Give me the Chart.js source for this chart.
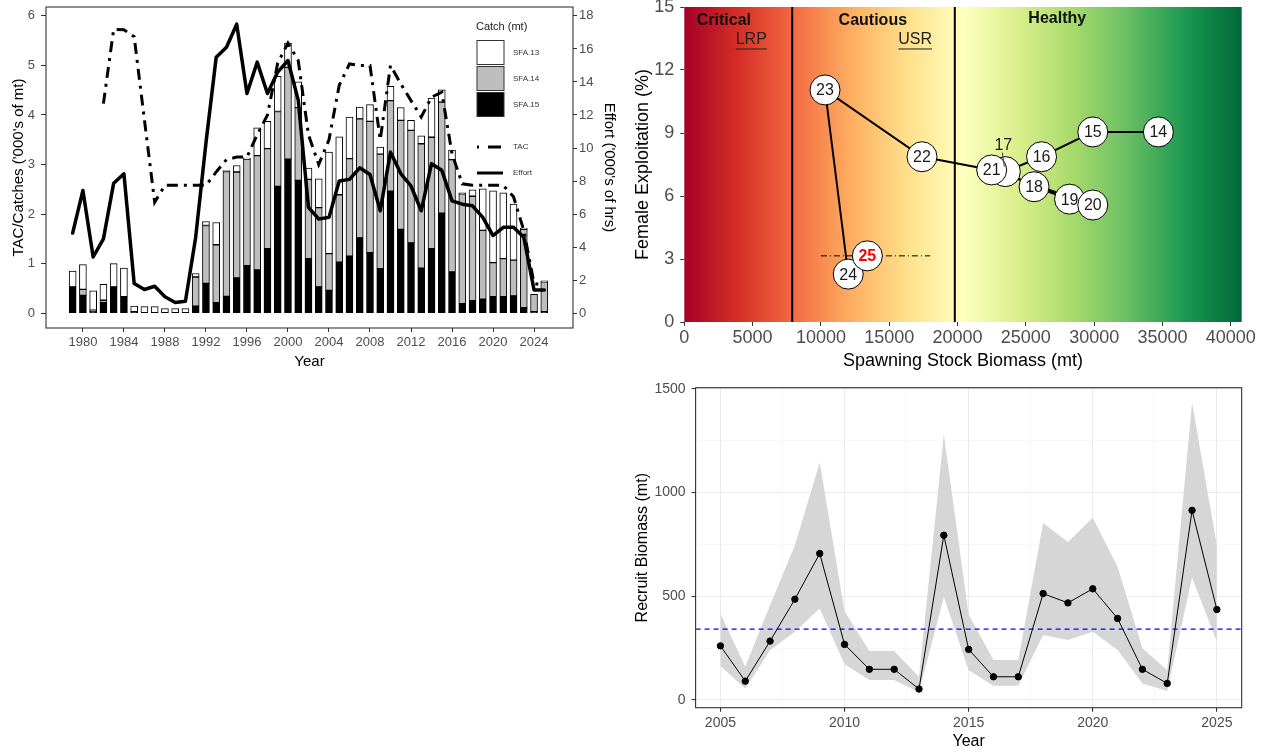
<!DOCTYPE html>
<html>
<head>
<meta charset="utf-8">
<script src="https://cdn.jsdelivr.net/npm/chart.js@4.4.1/dist/chart.umd.min.js"></script>
<style>
  body { margin: 0; background: #fff; width: 1261px; height: 752px; overflow: hidden; position: relative; }
  .panel { position: absolute; }
</style>
</head>
<body>
<div class="panel" style="left:0;top:0;width:625px;height:372px"><canvas id="catch-chart" width="625" height="372"></canvas></div>
<div class="panel" style="left:630px;top:0;width:631px;height:372px"><canvas id="hcr-chart" width="631" height="372"></canvas></div>
<div class="panel" style="left:630px;top:378px;width:631px;height:374px"><canvas id="recruit-chart" width="631" height="374"></canvas></div>
<script>
// ---- Catch / TAC / effort (top left) ----
const years = [1979, 1980, 1981, 1982, 1983, 1984, 1985, 1986, 1987, 1988, 1989, 1990, 1991, 1992, 1993, 1994,
    1995, 1996, 1997, 1998, 1999, 2000, 2001, 2002, 2003, 2004, 2005, 2006, 2007, 2008, 2009, 2010, 2011, 2012,
    2013, 2014, 2015, 2016, 2017, 2018, 2019, 2020, 2021, 2022, 2023, 2024, 2025];
const sfa15 = [0.53, 0.36, 0.03, 0.21, 0.53, 0.33, 0.03, 0, 0, 0, 0, 0, 0.14, 0.60, 0.21, 0.34,
    0.71, 0.96, 0.87, 1.30, 2.56, 3.11, 2.68, 1.10, 0.53, 0.46, 1.03, 1.15, 1.52, 1.22, 0.90, 2.46, 1.69, 1.42,
    0.91, 1.30, 2.02, 0.83, 0.19, 0.25, 0.28, 0.33, 0.33, 0.35, 0.11, 0.03, 0.03];
const sfa14 = [0, 0.12, 0.03, 0.05, 0, 0, 0, 0, 0, 0, 0, 0, 0.59, 1.17, 1.17, 2.52,
    2.14, 2.15, 2.31, 2.02, 1.51, 1.85, 1.47, 1.60, 1.60, 0.74, 1.36, 1.97, 2.40, 2.65, 2.31, 1.83, 2.20, 2.27,
    2.51, 2.25, 2.24, 2.27, 2.22, 2.11, 1.39, 0.69, 0.77, 0.72, 1.58, 0.35, 0.60];
const sfa13 = [0.32, 0.50, 0.39, 0.32, 0.47, 0.58, 0.11, 0.13, 0.13, 0.09, 0.09, 0.09, 0.07, 0.08, 0.45, 0.02,
    0.13, 0.02, 0.56, 0.55, 0.71, 0.49, 0.52, 0.23, 0.58, 2.05, 1.17, 0.84, 0.24, 0.34, 0.14, 0.29, 0.26, 0.20,
    0.16, 0.79, 0.25, 0.19, 0.02, 0.13, 0.84, 1.45, 1.33, 1.13, 0.02, 0, 0.02];
const tac = [null, null, null, 4.23, 5.73, 5.72, 5.58, 3.9, 2.24, 2.58, 2.58, 2.58, 2.58, 2.58, 2.85, 3.1,
    3.15, 3.15, 3.6, 4.0, 5.05, 5.45, 5.1, 3.6, 3.0, 3.5, 4.6, 5.03, 5.0, 5.0, 3.5, 5.0, 4.63, 4.29,
    3.96, 4.36, 4.46, 3.22, 2.61, 2.58, 2.58, 2.58, 2.58, 2.35, 1.67, 0.6, 0.56];
const effort = [4.85, 7.43, 3.4, 4.5, 7.87, 8.44, 1.79, 1.43, 1.63, 0.99, 0.64, 0.72, 4.6, 10.3, 15.5, 16.1,
    17.5, 13.3, 15.2, 13.3, 14.6, 15.3, 12.9, 6.4, 5.7, 5.8, 8.0, 8.1, 8.8, 8.4, 6.2, 9.75, 8.45, 7.7,
    6.2, 9.05, 8.65, 6.8, 6.6, 6.5, 5.8, 4.7, 5.2, 5.2, 4.6, 1.4, 1.4];
const yearTicks = [1980, 1984, 1988, 1992, 1996, 2000, 2004, 2008, 2012, 2016, 2020, 2024];
const catchTicks = [0, 1, 2, 3, 4, 5, 6];
const effortTicks = [0, 2, 4, 6, 8, 10, 12, 14, 16, 18];

// ---- Harvest control rule (top right) ----
const hcrYears = ['14', '15', '16', '17', '18', '19', '20', '21', '22', '23', '24', '25'];
const ssb = [34700, 29900, 26150, 23500, 25600, 28200, 29900, 22500, 17400, 10300, 12000, 13400];
const exploitation = [9.05, 9.05, 7.87, 7.16, 6.44, 5.85, 5.57, 7.24, 7.87, 11.05, 2.28, 3.15];
const lrp = 7900;
const usr = 19800;
const refExploitation = 3.15;
const refRange = [10000, 18000];
const ssbTicks = [0, 5000, 10000, 15000, 20000, 25000, 30000, 35000, 40000];
const exploitTicks = [0, 3, 6, 9, 12, 15];
const zoneColors = ['#a50026', '#d73027', '#f46d43', '#fdae61', '#fee08b', '#ffffbf',
    '#d9ef8b', '#a6d96a', '#66bd63', '#1a9850', '#006837'];

// ---- Recruit biomass (bottom right) ----
const recruitYears = [2005, 2006, 2007, 2008, 2009, 2010, 2011, 2012, 2013, 2014, 2015, 2016, 2017, 2018,
    2019, 2020, 2021, 2022, 2023, 2024, 2025];
const recruit = [261, 91, 284, 486, 706, 268, 148, 148, 53, 794, 244, 112, 112, 513, 468, 536, 393, 148, 80, 914, 436];
const recruitUpper = [417, 160, 457, 746, 1144, 428, 236, 236, 112, 1279, 412, 193, 193, 853, 762, 878, 642, 249, 144, 1433, 745];
const recruitLower = [164, 56, 240, 329, 441, 172, 96, 96, 37, 497, 144, 69, 69, 313, 289, 329, 241, 80, 43, 590, 281];
const recruitRef = 342;
const recruitYearTicks = [2005, 2010, 2015, 2020, 2025];
const recruitTicks = [0, 500, 1000, 1500];

const FONT = "'Liberation Sans', Arial, sans-serif";
Chart.defaults.font.family = FONT;
Chart.defaults.color = '#4d4d4d';
Chart.defaults.animation = false;
Chart.defaults.plugins.legend.display = false;
Chart.defaults.plugins.tooltip.enabled = false;

// fixed axis box so the panels line up like the figure
function fixBox(size) {
    return s => {
        if (s.isHorizontal()) s.height = size; else s.width = size;
        s.paddingTop = s.paddingBottom = s.paddingLeft = s.paddingRight = 0;
    };
}
function setTicks(values) {
    return s => { s.ticks = values.map(v => ({ value: v })); };
}
function withMinors(majors) {
    const out = [];
    majors.forEach((v, i) => {
        out.push(v);
        if (i < majors.length - 1) out.push((v + majors[i + 1]) / 2);
    });
    return out;
}
const xy = (xs, ys) => xs.map((x, i) => ({ x: x, y: ys[i] }));

const panelBox = {
    id: 'panelBox',
    afterDraw(chart) {
        const a = chart.chartArea, ctx = chart.ctx;
        ctx.save();
        ctx.strokeStyle = '#333';
        ctx.lineWidth = 1.1;
        ctx.strokeRect(a.left, a.top, a.right - a.left, a.bottom - a.top);
        ctx.restore();
    }
};

// ---------------- chart 1 ----------------
const catchLegend = {
    id: 'catchLegend',
    afterDraw(chart) {
        const ctx = chart.ctx;
        ctx.save();
        ctx.fillStyle = '#1a1a1a';
        ctx.font = '11px ' + FONT;
        ctx.textBaseline = 'middle';
        ctx.fillText('Catch (mt)', 476, 27);
        const keys = [['SFA.13', '#ffffff'], ['SFA.14', '#bebebe'], ['SFA.15', '#000000']];
        keys.forEach((k, i) => {
            const top = 40.5 + i * 26;
            ctx.fillStyle = k[1];
            ctx.fillRect(477, top, 27, 24);
            ctx.strokeStyle = '#333';
            ctx.lineWidth = 1;
            ctx.strokeRect(477, top, 27, 24);
            ctx.fillStyle = '#333';
            ctx.font = '8px ' + FONT;
            ctx.fillText(k[0], 513, top + 12);
        });
        ctx.strokeStyle = '#000';
        ctx.lineWidth = 3;
        ctx.setLineDash([2, 9, 11, 0]);
        ctx.beginPath(); ctx.moveTo(477, 147); ctx.lineTo(503, 147); ctx.stroke();
        ctx.setLineDash([]);
        ctx.beginPath(); ctx.moveTo(477, 173); ctx.lineTo(503, 173); ctx.stroke();
        ctx.fillStyle = '#333';
        ctx.fillText('TAC', 513, 147);
        ctx.fillText('Effort', 513, 173);
        ctx.restore();
    }
};

function barSet(label, values, color) {
    return {
        type: 'bar', label: label, data: xy(years, values), yAxisID: 'y',
        backgroundColor: color, borderColor: '#000', borderWidth: 1, borderSkipped: false,
        barThickness: 7, order: 1
    };
}

new Chart(document.getElementById('catch-chart'), {
    type: 'bar',
    data: {
        datasets: [
            {
                type: 'line', label: 'TAC', data: xy(years, tac), yAxisID: 'y', stack: 'tac',
                borderColor: '#000', borderWidth: 3, borderDash: [11, 6, 3, 6], pointRadius: 0, order: 0
            },
            {
                type: 'line', label: 'Effort', data: xy(years, effort), yAxisID: 'y2',
                borderColor: '#000', borderWidth: 3.5, borderJoinStyle: 'round', borderCapStyle: 'round',
                pointRadius: 0, order: 0
            },
            barSet('SFA.15', sfa15, '#000000'),
            barSet('SFA.14', sfa14, '#bebebe'),
            barSet('SFA.13', sfa13, '#ffffff')
        ]
    },
    options: {
        responsive: false,
        layout: { padding: { top: 7, left: 0, right: 0, bottom: 0 } },
        scales: {
            x: {
                type: 'linear', min: 1976.4, max: 2027.8, offset: false, stacked: true,
                afterBuildTicks: setTicks(yearTicks), afterFit: fixBox(44),
                ticks: { callback: v => String(v), font: { size: 13 }, padding: 3, maxRotation: 0, autoSkip: false },
                grid: { drawOnChartArea: false, offset: false, tickLength: 4, color: '#333' },
                border: { display: false },
                title: { display: true, text: 'Year', color: '#000', font: { size: 15 }, padding: { top: 0, bottom: 1 } }
            },
            y: {
                type: 'linear', position: 'left', min: -0.3, max: 6.18, stacked: true,
                afterBuildTicks: setTicks(catchTicks), afterFit: fixBox(46),
                ticks: { callback: v => String(v), font: { size: 13 }, padding: 6 },
                grid: { drawOnChartArea: false, tickLength: 5, color: '#333' },
                border: { display: false },
                title: { display: true, text: "TAC/Catches ('000's of mt)", color: '#000', font: { size: 15 }, padding: { top: 10 } }
            },
            y2: {
                type: 'linear', position: 'right', min: -0.9, max: 18.54,
                afterBuildTicks: setTicks(effortTicks), afterFit: fixBox(52),
                ticks: { callback: v => String(v), font: { size: 13 }, padding: 2 },
                grid: { drawOnChartArea: false, tickLength: 4, color: '#333' },
                border: { display: false },
                title: { display: true, text: "Effort ('000's of hrs)", color: '#000', font: { size: 15 }, padding: { top: 7 } }
            }
        }
    },
    plugins: [panelBox, catchLegend]
});

// ---------------- chart 2 ----------------
const zoneBackground = {
    id: 'zoneBackground',
    beforeDatasetsDraw(chart) {
        const { ctx, chartArea: a, scales: { x, y } } = chart;
        ctx.save();
        const g = ctx.createLinearGradient(a.left, 0, a.right, 0);
        zoneColors.forEach((c, i) => g.addColorStop(i / (zoneColors.length - 1), c));
        ctx.fillStyle = g;
        ctx.fillRect(a.left, a.top, a.right - a.left, a.bottom - a.top);

        ctx.strokeStyle = '#000';
        ctx.lineWidth = 2;
        [lrp, usr].forEach(v => {
            const px = x.getPixelForValue(v);
            ctx.beginPath(); ctx.moveTo(px, a.top); ctx.lineTo(px, a.bottom); ctx.stroke();
        });

        ctx.textAlign = 'center';
        ctx.textBaseline = 'middle';
        ctx.fillStyle = '#111';
        ctx.font = 'bold 16px ' + FONT;
        ctx.fillText('Critical', x.getPixelForValue(2900), y.getPixelForValue(14.33));
        ctx.fillText('Cautious', x.getPixelForValue(13800), y.getPixelForValue(14.33));
        ctx.fillText('Healthy', x.getPixelForValue(27300), y.getPixelForValue(14.43));

        ctx.font = '16px ' + FONT;
        ctx.lineWidth = 1;
        ctx.strokeStyle = '#222';
        ctx.fillStyle = '#222';
        [['LRP', 4900], ['USR', 16900]].forEach(([t, v]) => {
            const px = x.getPixelForValue(v), py = y.getPixelForValue(13.43);
            ctx.fillText(t, px, py);
            const w = ctx.measureText(t).width;
            ctx.beginPath(); ctx.moveTo(px - w / 2, py + 9); ctx.lineTo(px + w / 2, py + 9); ctx.stroke();
        });
        ctx.restore();
    }
};

const yearCircles = {
    id: 'yearCircles',
    afterDatasetsDraw(chart) {
        const ctx = chart.ctx;
        const pts = chart.getDatasetMeta(0).data;
        const last = pts.length - 1;
        ctx.save();
        ctx.textAlign = 'center';
        ctx.textBaseline = 'middle';
        pts.forEach((pt, i) => {
            ctx.beginPath();
            ctx.arc(pt.x, pt.y, 15, 0, Math.PI * 2);
            ctx.fillStyle = '#fff';
            ctx.fill();
            ctx.lineWidth = 1;
            ctx.strokeStyle = '#000';
            ctx.stroke();
            if (hcrYears[i] === '17') return;
            ctx.fillStyle = i === last ? '#ff0000' : '#1a1a1a';
            ctx.font = (i === last ? 'bold ' : '') + '16px ' + FONT;
            ctx.fillText(hcrYears[i], pt.x, pt.y + 1);
        });
        // 2017 label is pushed above its point
        const p17 = pts[hcrYears.indexOf('17')];
        ctx.fillStyle = '#1a1a1a';
        ctx.font = '16px ' + FONT;
        ctx.fillText('17', p17.x - 2, p17.y - 26);
        ctx.strokeStyle = '#333';
        ctx.lineWidth = 1;
        ctx.beginPath(); ctx.moveTo(p17.x - 3, p17.y - 19); ctx.lineTo(p17.x - 1, p17.y - 5); ctx.stroke();
        ctx.restore();
    }
};

new Chart(document.getElementById('hcr-chart'), {
    type: 'line',
    data: {
        datasets: [
            {
                label: 'path', data: xy(ssb, exploitation), borderColor: '#000', borderWidth: 2,
                pointRadius: 0, tension: 0
            },
            {
                label: 'ref', data: xy(refRange, [refExploitation, refExploitation]), borderColor: '#000',
                borderWidth: 1, borderDash: [6, 3, 1, 3], pointRadius: 0
            }
        ]
    },
    options: {
        responsive: false,
        layout: { padding: { top: 7, left: 0, right: 19.3, bottom: 0 } },
        scales: {
            x: {
                type: 'linear', min: 0, max: 40800,
                afterBuildTicks: setTicks(ssbTicks), afterFit: fixBox(50),
                ticks: { callback: v => String(v), font: { size: 18 }, padding: 1, maxRotation: 0, autoSkip: false },
                grid: { drawOnChartArea: false, tickLength: 4, color: '#333' },
                border: { display: false },
                title: { display: true, text: 'Spawning Stock Biomass (mt)', color: '#000', font: { size: 18 }, padding: { top: 0, bottom: 0 } }
            },
            y: {
                type: 'linear', min: 0, max: 15,
                afterBuildTicks: setTicks(exploitTicks), afterFit: fixBox(54.3),
                ticks: { callback: v => String(v), font: { size: 18 }, padding: 6 },
                grid: { drawOnChartArea: false, tickLength: 4, color: '#333' },
                border: { display: false },
                title: { display: true, text: 'Female Exploitation (%)', color: '#000', font: { size: 18 }, padding: { top: 2 } }
            }
        }
    },
    plugins: [zoneBackground, yearCircles]
});

// ---------------- chart 3 ----------------
const xGrid = withMinors(recruitYearTicks);
const yGrid = withMinors(recruitTicks);
const isMajorYear = v => recruitYearTicks.includes(v);
const isMajorRec = v => recruitTicks.includes(v);

new Chart(document.getElementById('recruit-chart'), {
    type: 'line',
    data: {
        datasets: [
            {
                label: 'upper', data: xy(recruitYears, recruitUpper), fill: '+1',
                backgroundColor: '#d6d6d6', borderWidth: 0, pointRadius: 0, order: 3
            },
            {
                label: 'lower', data: xy(recruitYears, recruitLower), fill: false,
                borderWidth: 0, pointRadius: 0, order: 3
            },
            {
                label: 'reference', data: xy([2004, 2026], [recruitRef, recruitRef]),
                borderColor: '#0000ff', borderWidth: 1.2, borderDash: [5, 4], pointRadius: 0, order: 1
            },
            {
                label: 'Recruit Biomass', data: xy(recruitYears, recruit), borderColor: '#000', borderWidth: 1,
                pointRadius: 3.2, pointBackgroundColor: '#000', pointBorderColor: '#000', order: 0
            }
        ]
    },
    options: {
        responsive: false,
        layout: { padding: { top: 9.7, left: 0, right: 19.3, bottom: 0 } },
        scales: {
            x: {
                type: 'linear', min: 2004, max: 2026,
                afterBuildTicks: setTicks(xGrid), afterFit: fixBox(44.3),
                ticks: { callback: v => isMajorYear(v) ? String(v) : '', font: { size: 14 }, padding: 3, maxRotation: 0, autoSkip: false },
                grid: {
                    color: c => isMajorYear(c.tick.value) ? '#ebebeb' : '#f3f3f3',
                    lineWidth: c => isMajorYear(c.tick.value) ? 1.1 : 0.6,
                    tickColor: c => isMajorYear(c.tick.value) ? '#333' : 'rgba(0,0,0,0)',
                    tickLength: 4
                },
                border: { display: false },
                title: { display: true, text: 'Year', color: '#000', font: { size: 16 }, padding: { top: 0, bottom: 1 } }
            },
            y: {
                type: 'linear', min: -37, max: 1505,
                afterBuildTicks: setTicks(yGrid), afterFit: fixBox(65.6),
                ticks: { callback: v => isMajorRec(v) ? String(v) : '', font: { size: 14 }, padding: 6 },
                grid: {
                    color: c => isMajorRec(c.tick.value) ? '#ebebeb' : '#f3f3f3',
                    lineWidth: c => isMajorRec(c.tick.value) ? 1.1 : 0.6,
                    tickColor: c => isMajorRec(c.tick.value) ? '#333' : 'rgba(0,0,0,0)',
                    tickLength: 4
                },
                border: { display: false },
                title: { display: true, text: 'Recruit Biomass (mt)', color: '#000', font: { size: 16 }, padding: { top: 3 } }
            }
        }
    },
    plugins: [panelBox]
});
</script>
</body>
</html>
